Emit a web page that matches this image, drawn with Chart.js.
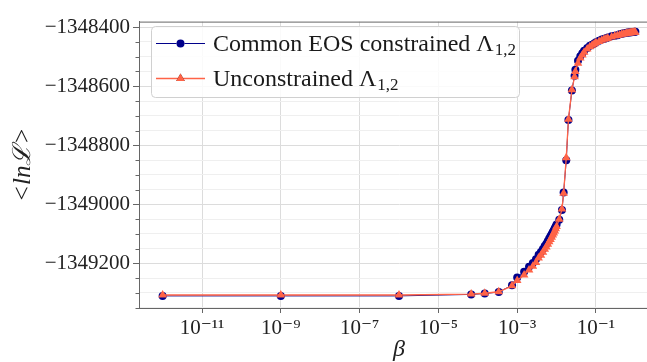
<!DOCTYPE html>
<html>
<head>
<meta charset="utf-8">
<script src="https://cdn.jsdelivr.net/npm/chart.js@4.4.1/dist/chart.umd.min.js"></script>
<style>
    html, body { margin: 0; padding: 0; background: #fff; overflow: hidden; }
    #wrap { position: relative; width: 665px; height: 362px; }
</style>
</head>
<body>
<div id="wrap"><canvas id="chart"></canvas></div>
<script>
// ---------------------------------------------------------
// 1. DATA
// ---------------------------------------------------------
const betas = [
    1e-12, 1e-9, 1e-6, 6.8e-5, 1.5e-4, 3.4e-4, 7.4e-4,
    0.001, 0.0015, 0.002, 0.0025, 0.003, 0.0035, 0.004, 0.0045, 0.005,
    0.0055, 0.006, 0.0065, 0.007, 0.0075, 0.008, 0.0085, 0.009, 0.0095, 0.01,
    0.0117, 0.0137, 0.0151, 0.0176, 0.020, 0.0245, 0.0286,
    0.03, 0.035, 0.04, 0.045, 0.05, 0.06, 0.07, 0.08, 0.09, 0.1,
    0.12, 0.14, 0.16, 0.18, 0.2, 0.25, 0.3, 0.35, 0.4, 0.45, 0.5,
    0.55, 0.6, 0.65, 0.7, 0.75, 0.8, 0.85, 0.9, 0.95, 1.0
];

const lnLConstrained = [
    -1349310, -1349310, -1349310, -1349305, -1349302, -1349297, -1349274,
    -1349248, -1349228, -1349211, -1349199, -1349186, -1349171, -1349161, -1349151, -1349141,
    -1349133, -1349124, -1349116, -1349108, -1349101, -1349094, -1349088, -1349081, -1349075, -1349068,
    -1349052, -1349019, -1348960, -1348851, -1348714, -1348614, -1348564,
    -1348544, -1348514, -1348498, -1348488, -1348480, -1348470, -1348463, -1348459, -1348455, -1348451,
    -1348446, -1348442, -1348440, -1348437, -1348435, -1348431, -1348429, -1348427, -1348424, -1348422, -1348421,
    -1348420, -1348419, -1348418, -1348418, -1348417, -1348417, -1348416, -1348416, -1348415, -1348415
];

const lnLUnconstrained = [
    -1349307, -1349307, -1349307, -1349304, -1349301, -1349296, -1349276,
    -1349258, -1349239, -1349222, -1349210, -1349197, -1349182, -1349172, -1349162, -1349152,
    -1349144, -1349135, -1349127, -1349119, -1349111, -1349104, -1349097, -1349090, -1349083, -1349075,
    -1349050, -1349016, -1348962, -1348842, -1348712, -1348612, -1348568,
    -1348550, -1348522, -1348504, -1348494, -1348485, -1348474, -1348466, -1348461, -1348457, -1348453,
    -1348448, -1348444, -1348441, -1348439, -1348437, -1348433, -1348430, -1348428, -1348426, -1348424, -1348423,
    -1348422, -1348421, -1348420, -1348420, -1348419, -1348419, -1348418, -1348418, -1348417, -1348417
];

const seriesLabels = ['Common EOS constrained Λ', 'Unconstrained Λ'];
const seriesSub = '1,2';

const xTickExps = [-11, -9, -7, -5, -3, -1];
const yTicks = [
    -1349350, -1349300, -1349250, -1349200, -1349150, -1349100, -1349050, -1349000,
    -1348950, -1348900, -1348850, -1348800, -1348750, -1348700, -1348650, -1348600,
    -1348550, -1348500, -1348450, -1348400
];
const yMajorStep = 200;

const colorA = '#00008b';
const colorB = '#ff6347';
const serif = '"Liberation Serif", "DejaVu Serif", serif';

// ---------------------------------------------------------
// 2. HELPERS
// ---------------------------------------------------------
const SUP = { '-': '⁻', '0': '⁰', '1': '¹', '2': '²', '3': '³', '4': '⁴', '5': '⁵', '6': '⁶', '7': '⁷', '8': '⁸', '9': '⁹' };
const toSup = (n) => String(n).split('').map(c => SUP[c] || c).join('');
const isMajorY = (v) => Math.round(v) % yMajorStep === 0;

// frame + y tick marks (major long, minor short)
const framePlugin = {
    id: 'frame',
    afterDraw(chart) {
        const { ctx, chartArea: a } = chart;
        const ys = chart.scales.y;
        ctx.save();
        ctx.strokeStyle = '#666';
        ctx.lineWidth = 1;
        ctx.strokeRect(a.left + 0.5, a.top + 0.5, a.right - a.left, a.bottom - a.top);
        yTicks.forEach(v => {
            const py = Math.round(ys.getPixelForValue(v)) + 0.5;
            if (py < a.top || py > a.bottom + 1) return;
            const len = isMajorY(v) ? 6 : 3.5;
            ctx.beginPath();
            ctx.moveTo(a.left - len, py);
            ctx.lineTo(a.left, py);
            ctx.stroke();
        });
        ctx.restore();
    }
};

// legend box inside the plot, with subscripts
const legendPlugin = {
    id: 'innerLegend',
    afterDraw(chart) {
        const { ctx } = chart;
        const box = { x: 151.5, y: 26.5, w: 368, h: 71, r: 4 };
        ctx.save();
        ctx.beginPath();
        ctx.roundRect(box.x, box.y, box.w, box.h, box.r);
        ctx.fillStyle = 'rgba(255,255,255,0.85)';
        ctx.fill();
        ctx.strokeStyle = '#d0d0d0';
        ctx.lineWidth = 1;
        ctx.stroke();

        const rows = [43.5, 78.5];
        chart.data.datasets.forEach((ds, i) => {
            const cy = rows[i];
            ctx.strokeStyle = ds.borderColor;
            ctx.lineWidth = ds.borderWidth;
            ctx.beginPath();
            ctx.moveTo(156, cy);
            ctx.lineTo(205, cy);
            ctx.stroke();
            Chart.helpers.drawPoint(ctx, {
                pointStyle: ds.pointStyle, radius: ds.pointRadius, rotation: 0, borderWidth: 0
            }, 180.5, cy);
            ctx.fillStyle = ds.backgroundColor;
            ctx.fill();

            ctx.fillStyle = '#1a1a1a';
            ctx.textBaseline = 'middle';
            ctx.font = '24px ' + serif;
            ctx.fillText(seriesLabels[i], 213, cy + 1);
            const w = ctx.measureText(seriesLabels[i]).width;
            ctx.font = '17px ' + serif;
            ctx.fillText(seriesSub, 213 + w + 1, cy + 7);
        });
        ctx.restore();
    }
};

// ---------------------------------------------------------
// 3. CHART
// ---------------------------------------------------------
new Chart(document.getElementById('chart'), {
    type: 'line',
    data: {
        datasets: [
            {
                label: seriesLabels[0] + seriesSub,
                data: betas.map((b, i) => ({ x: b, y: lnLConstrained[i] })),
                borderColor: colorA,
                backgroundColor: colorA,
                borderWidth: 1,
                pointStyle: 'circle',
                pointRadius: 4,
                pointBorderWidth: 0,
                tension: 0,
                order: 2
            },
            {
                label: seriesLabels[1] + seriesSub,
                data: betas.map((b, i) => ({ x: b, y: lnLUnconstrained[i] })),
                borderColor: colorB,
                backgroundColor: colorB,
                borderWidth: 1.3,
                pointStyle: 'triangle',
                pointRadius: 5,
                pointBorderWidth: 0,
                tension: 0,
                order: 1
            }
        ]
    },
    options: {
        animation: false,
        responsive: true,
        maintainAspectRatio: false,
        layout: { padding: { left: 0, right: 6, top: 15, bottom: 0 } },
        plugins: {
            legend: { display: false },
            tooltip: { enabled: false }
        },
        scales: {
            x: {
                type: 'logarithmic',
                min: Math.pow(10, -12.6),
                max: Math.pow(10, 0.6),
                afterBuildTicks: (s) => { s.ticks = xTickExps.map(e => ({ value: Math.pow(10, e) })); },
                afterFit: (s) => { s.height = 54; },
                ticks: {
                    autoSkip: false,
                    maxRotation: 0,
                    color: '#222',
                    padding: 3,
                    font: { family: serif, size: 21 },
                    callback: (v) => '10' + toSup(Math.round(Math.log10(v)))
                },
                grid: { color: '#dcdcdc', tickColor: '#666', tickLength: 5 },
                border: { color: '#666' },
                title: {
                    display: true,
                    text: 'β',
                    color: '#222',
                    padding: { top: 0, bottom: 0 },
                    font: { family: serif, size: 24, style: 'italic', lineHeight: 1 }
                }
            },
            y: {
                min: -1349351,
                max: -1348381,
                afterBuildTicks: (s) => { s.ticks = yTicks.map(v => ({ value: v })); },
                afterFit: (s) => { s.width = 139; },
                ticks: {
                    autoSkip: false,
                    color: '#222',
                    padding: 9,
                    font: { family: serif, size: 21 },
                    callback: (v) => isMajorY(v) ? '−' + Math.abs(v) : ''
                },
                grid: {
                    drawTicks: false,
                    color: (c) => (c.tick && isMajorY(c.tick.value)) ? '#dcdcdc' : '#efefef'
                },
                border: { color: '#666' },
                title: {
                    display: true,
                    text: '<lnℒ>',
                    color: '#222',
                    padding: { top: 8, bottom: 0 },
                    font: { family: serif, size: 25, style: 'italic' }
                }
            }
        }
    },
    plugins: [framePlugin, legendPlugin]
});
</script>
</body>
</html>
